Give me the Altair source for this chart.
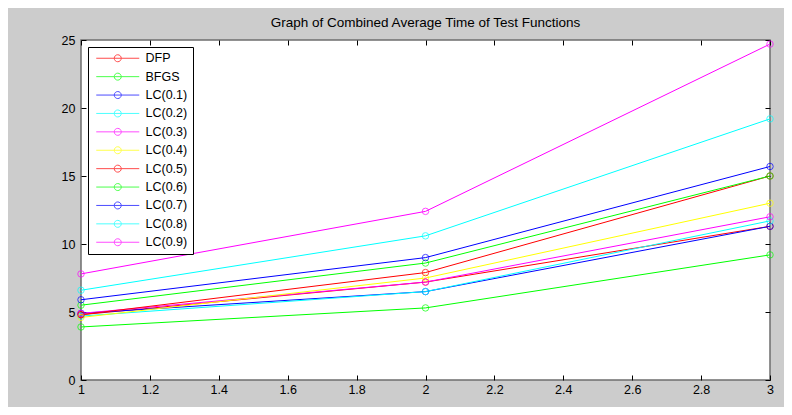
import altair as alt
import pandas as pd

x_vals = [1, 2, 3]
series_names = ["DFP", "BFGS", "LC(0.1)", "LC(0.2)", "LC(0.3)", "LC(0.4)",
                "LC(0.5)", "LC(0.6)", "LC(0.7)", "LC(0.8)", "LC(0.9)"]
series_colors = ["#ff0000", "#00ff00", "#0000ff", "#00ffff", "#ff00ff", "#ffff00",
                 "#ff0000", "#00ff00", "#0000ff", "#00ffff", "#ff00ff"]

dfp = [4.8, 7.2, 11.3]
bfgs = [3.9, 5.3, 9.2]
lc01 = [4.9, 6.5, 11.3]
lc02 = [4.7, 6.5, 11.7]
lc03 = [4.9, 7.2, 12.0]
lc04 = [4.6, 7.5, 13.0]
lc05 = [4.8, 7.9, 15.0]
lc06 = [5.5, 8.6, 15.0]
lc07 = [5.9, 9.0, 15.7]
lc08 = [6.6, 10.6, 19.2]
lc09 = [7.8, 12.4, 24.7]

x_ticks = [1, 1.2, 1.4, 1.6, 1.8, 2, 2.2, 2.4, 2.6, 2.8, 3]
y_ticks = [0, 5, 10, 15, 20, 25]

all_series = [dfp, bfgs, lc01, lc02, lc03, lc04, lc05, lc06, lc07, lc08, lc09]
rows = []
for i, (name, vals) in enumerate(zip(series_names, all_series)):
    for xv, yv in zip(x_vals, vals):
        rows.append({"x": xv, "y": yv, "series": name, "order": i})
df = pd.DataFrame(rows)

FONT = "Liberation Sans"
TICK = 5

xscale = alt.Scale(domain=[1, 3], nice=False, zero=False)
yscale = alt.Scale(domain=[0, 25], nice=False)

legend_path = ("M-4.3,0H4.3M-0.7,0A0.7,0.7,0,1,0,0.7,0A0.7,0.7,0,1,0,-0.7,0")

color = alt.Color(
    "series:N",
    sort=series_names,
    scale=alt.Scale(domain=series_names, range=series_colors),
    legend=alt.Legend(
        title=None, orient="none", legendX=7, legendY=7,
        fillColor="white", strokeColor="black", padding=5,
        symbolType=legend_path, symbolSize=100, symbolStrokeWidth=1,
        symbolFillColor="transparent",
        symbolOffset=18.5, labelOffset=21.5, rowPadding=5.4,
        labelFont=FONT, labelFontSize=12.5, labelColor="black", labelLimit=200,
    ),
)

x_bottom = alt.X("x:Q", scale=xscale, title=None,
                 axis=alt.Axis(values=x_ticks, format=".1~f", orient="bottom",
                               offset=-TICK, tickSize=TICK, tickColor="black",
                               domain=False, grid=False, labelPadding=3,
                               labelFont=FONT, labelFontSize=12.5, labelColor="black",
                               labelFlush=False))
y_left = alt.Y("y:Q", scale=yscale, title=None,
               axis=alt.Axis(values=y_ticks, orient="left",
                             offset=-TICK, tickSize=TICK, tickColor="black",
                             domain=False, grid=False, labelPadding=6,
                             labelFont=FONT, labelFontSize=12.5, labelColor="black",
                             labelFlush=False))

lines = alt.Chart(df).mark_line(strokeWidth=1).encode(
    x=x_bottom, y=y_left, color=color, order="order:Q")
points = alt.Chart(df).mark_point(shape="circle", filled=False, size=42, strokeWidth=1).encode(
    x=alt.X("x:Q", scale=xscale, axis=None),
    y=alt.Y("y:Q", scale=yscale, axis=None),
    color=color)

frame = alt.Chart(df).mark_point(opacity=0).encode(
    x=alt.X("x:Q", scale=xscale, title=None,
            axis=alt.Axis(values=x_ticks, orient="top", offset=-TICK, tickSize=TICK,
                          tickColor="black", domain=False, grid=False, labels=False)),
    y=alt.Y("y:Q", scale=yscale, title=None,
            axis=alt.Axis(values=y_ticks, orient="right", offset=-TICK, tickSize=TICK,
                          tickColor="black", domain=False, grid=False, labels=False)),
)

chart = alt.layer(lines, points, frame).resolve_axis(
    x="independent", y="independent"
).properties(
    width=689, height=340,
    title=alt.Title("Graph of Combined Average Time of Test Functions",
                    font=FONT, fontSize=13.5, fontWeight="normal", color="black",
                    anchor="middle", offset=5),
    background="#cccccc",
    padding={"left": 73, "top": 32, "right": 14, "bottom": 27},
    autosize=alt.AutoSizeParams(type="none"),
).configure_view(
    fill="white", stroke="#6e6e6e", strokeWidth=1.5
)

chart.save("out.html", embed_options={"renderer": "svg", "actions": False})
